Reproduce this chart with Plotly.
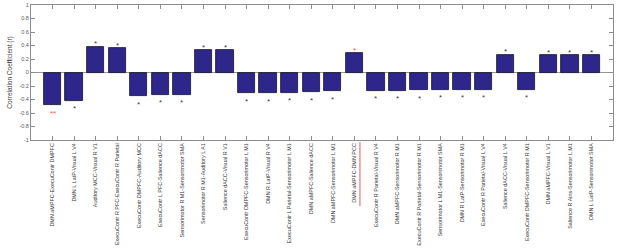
import plotly.graph_objects as go

labels = [
    "DMN aMPFC-ExecuContr DMPFC",
    "DMN L LatP-Visual L V4",
    "Auditory MCC-Visual R V1",
    "ExecuContr R PFC-ExecuContr R Parietal",
    "ExecuContr DMPFC-Auditory MCC",
    "ExecuContr L PFC-Salience dACC",
    "Sensorimotor R M1-Sensorimotor SMA",
    "Sensorimotor R M1-Auditory L A1",
    "Salience dACC-Visual R V1",
    "ExecuContr DMPFC-Sensorimotor L M1",
    "DMN R LatP-Visual R V4",
    "ExecuContr L Parietal-Sensorimotor L M1",
    "DMN aMPFC-Salience dACC",
    "DMN aMPFC-Sensorimotor L M1",
    "DMN aMPFC-DMN PCC",
    "ExecuContr R Parietal-Visual R V4",
    "DMN aMPFC-Sensorimotor R M1",
    "ExecuContr R Parietal-Sensorimotor R M1",
    "Sensorimotor L M1-Sensorimotor SMA",
    "DMN R LatP-Sensorimotor R M1",
    "ExecuContr R Parietal-Visual L V4",
    "Salience dACC-Visual L V4",
    "ExecuContr DMPFC-Sensorimotor R M1",
    "DMN aMPFC-Visual L V1",
    "Salience R Ains-Sensorimotor L M1",
    "DMN L LatP-Sensorimotor SMA",
]
values = [-0.485, -0.42, 0.38, 0.36, -0.35, -0.33, -0.33, 0.327, 0.327, -0.31,
          -0.307, -0.297, -0.29, -0.28, 0.287, -0.267, -0.267, -0.26, -0.257, -0.257,
          -0.257, 0.262, -0.257, 0.252, 0.252, 0.252]
stars = ["**", "*", "*", "*", "*", "*", "*", "*", "*", "*",
         "*", "*", "*", "*", "*", "*", "*", "*", "*", "*",
         "*", "*", "*", "*", "*", "*"]
star_colors = ["red"] + ["black"] * 13 + ["red"] + ["black"] * 11
underlined = "DMN aMPFC-DMN PCC"

yticks = [-1, -0.8, -0.6, -0.4, -0.2, 0, 0.2, 0.4, 0.6, 0.8, 1]
ytick_text = ["-1", "-0.8", "-0.6", "-0.4", "-0.2", "0", "0.2", "0.4", "0.6", "0.8", "1"]

xs = list(range(1, len(labels) + 1))

fig = go.Figure()
fig.add_trace(go.Bar(
    x=xs, y=values, width=0.8,
    marker=dict(color="rgb(46,38,138)", line=dict(color="rgb(20,20,40)", width=0.8)),
    showlegend=False,
))

col_map = {"red": "rgb(235,80,80)", "black": "rgb(60,60,60)"}
for x, v, s, c in zip(xs, values, stars, star_colors):
    fig.add_annotation(
        x=x, y=v, text=s, showarrow=False, xref="x", yref="y",
        yanchor="middle", yshift=(3 if v > 0 else -8),
        font=dict(family="Liberation Sans, Arial", size=8, color=col_map[c]),
    )

# red underline under the highlighted tick label (rotated text -> vertical line)
ui = labels.index(underlined) + 1
fig.add_shape(type="line", xref="x", yref="paper",
              x0=ui + 0.26, x1=ui + 0.26, y0=-0.015, y1=-0.49,
              line=dict(color="rgb(235,90,90)", width=1))

axis_col = "rgb(140,140,140)"
fig.update_layout(
    width=617, height=250,
    margin=dict(l=31, r=4, t=5, b=110, autoexpand=False),
    plot_bgcolor="white", paper_bgcolor="white",
    font=dict(family="Liberation Sans, Arial", color="rgb(70,70,70)"),
    bargap=0,
)
fig.update_xaxes(
    range=[0, 27], tickmode="array", tickvals=xs, ticktext=labels,
    tickangle=-90, tickfont=dict(size=5.45, color="rgb(60,60,60)"),
    ticks="inside", ticklen=4, tickcolor=axis_col, automargin=False,
    showline=True, linecolor=axis_col, linewidth=1, mirror="ticks",
    showgrid=False, zeroline=False,
)
fig.update_yaxes(
    range=[-1, 1], tickmode="array", tickvals=yticks, ticktext=ytick_text,
    tickfont=dict(size=5.5, color="rgb(90,90,90)"), automargin=False,
    ticks="inside", ticklen=4, tickcolor=axis_col,
    showline=True, linecolor=axis_col, linewidth=1, mirror="ticks",
    showgrid=False, zeroline=True, zerolinecolor="rgb(150,150,150)", zerolinewidth=1,
    title=dict(text="Correlation Coefficient (r)", font=dict(size=6.5, color="rgb(60,60,60)"), standoff=6),
)

fig.write_html("out.html", config={"displayModeBar": False})

# remove the browser's default body margin so the figure sits at the page origin
with open("out.html", "r", encoding="utf-8") as f:
    html = f.read()
html = html.replace("<head>", "<head><style>html,body{margin:0;padding:0;overflow:hidden}</style>", 1)
with open("out.html", "w", encoding="utf-8") as f:
    f.write(html)
